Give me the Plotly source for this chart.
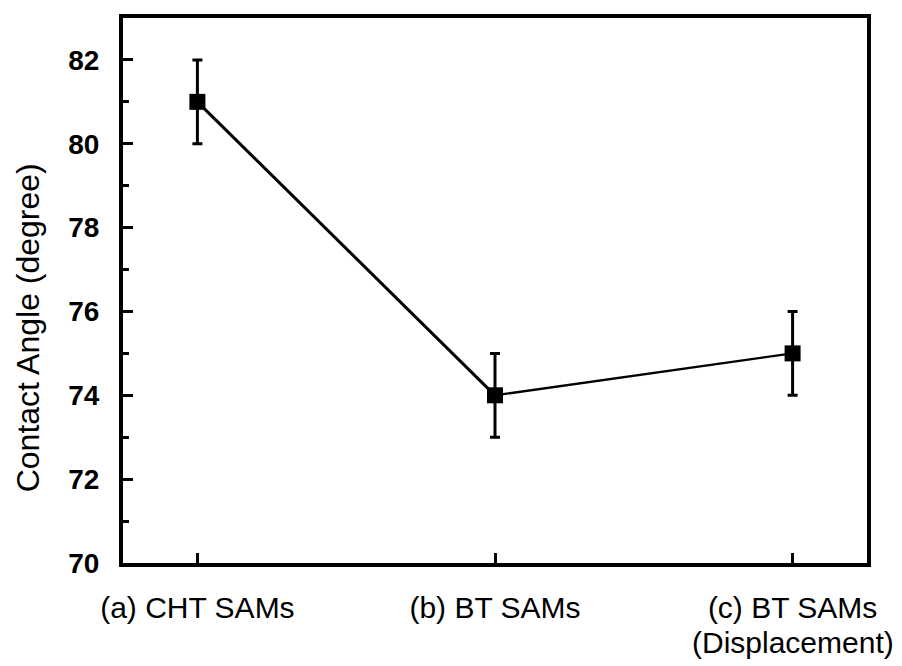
import plotly.graph_objects as go

categories = ["(a) CHT SAMs", "(b) BT SAMs", "(c) BT SAMs<br>(Displacement)"]
positions = [0, 1, 2]
contact_angle = [81, 74, 75]
error = [1, 1, 1]
y_ticks = [70, 72, 74, 76, 78, 80, 82]

first_lines = [c.split("<br>")[0] for c in categories]
extra_lines = [(p, c.split("<br>")[1]) for p, c in zip(positions, categories) if "<br>" in c]

FONT = "Liberation Sans, Arial, sans-serif"

fig = go.Figure()

# connecting line segments (first segment drawn heavier, as in the reference)
fig.add_trace(go.Scatter(x=positions[0:2], y=contact_angle[0:2], mode="lines",
                         line=dict(color="black", width=3), showlegend=False))
fig.add_trace(go.Scatter(x=positions[1:3], y=contact_angle[1:3], mode="lines",
                         line=dict(color="black", width=2.3), showlegend=False))
# markers with error bars
fig.add_trace(go.Scatter(x=positions, y=contact_angle, mode="markers",
                         marker=dict(symbol="square", size=16, color="black"),
                         error_y=dict(type="data", array=error, visible=True,
                                      color="black", thickness=3, width=5),
                         showlegend=False))

fig.update_layout(
    width=902, height=666,
    margin=dict(l=115, r=43, t=6, b=111),
    paper_bgcolor="white", plot_bgcolor="white",
    font=dict(family=FONT, color="black"),
    xaxis=dict(range=[-0.25, 2.25], tickmode="array", tickvals=positions,
               ticktext=first_lines, ticks="inside", ticklen=10, tickwidth=3,
               tickcolor="black", showline=True, linewidth=4, linecolor="black",
               mirror=True, showgrid=False, zeroline=False,
               tickfont=dict(size=30, family=FONT),
               ticklabelstandoff=15),
    yaxis=dict(range=[70, 83], tickmode="array", tickvals=y_ticks,
               ticks="inside", ticklen=10, tickwidth=3, tickcolor="black",
               showline=True, linewidth=4, linecolor="black", mirror=True,
               showgrid=False, zeroline=False,
               minor=dict(dtick=1, ticks="inside", ticklen=6, tickwidth=3,
                          tickcolor="black", showgrid=False),
               tickfont=dict(size=28, family=FONT, weight="bold"),
               ticklabelstandoff=14),
)

for p, txt in extra_lines:
    fig.add_annotation(text=txt, x=p, xref="x", y=-0.145, yref="paper",
                       xanchor="center", yanchor="middle", showarrow=False,
                       font=dict(size=30, family=FONT))

fig.add_annotation(text="Contact Angle (degree)", textangle=-90,
                   xref="paper", yref="paper", x=-0.128, y=0.432,
                   xanchor="center", yanchor="middle", showarrow=False,
                   font=dict(size=32, family=FONT))

fig.write_html("out.html")
